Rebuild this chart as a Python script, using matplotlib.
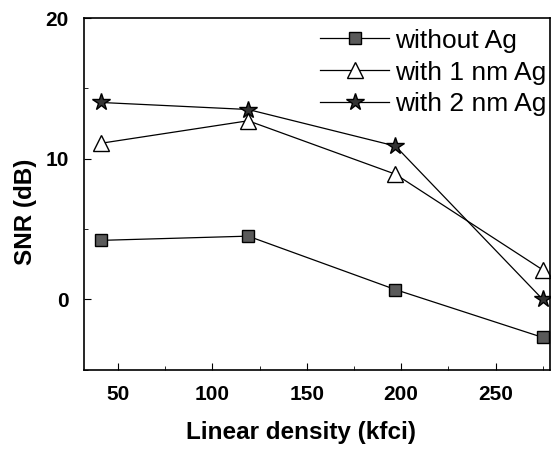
import matplotlib
matplotlib.use("Agg")
import matplotlib.pyplot as plt
from matplotlib.ticker import MultipleLocator

plt.rcParams['font.family'] = ['Liberation Sans', 'DejaVu Sans']

density = [41, 119, 197, 275]
snr_no_ag = [4.2, 4.5, 0.7, -2.7]
snr_1nm = [11.1, 12.7, 8.9, 2.1]
snr_2nm = [14.0, 13.5, 10.9, 0.0]
labels = ["without Ag", "with 1 nm Ag", "with 2 nm Ag"]

fig = plt.figure(figsize=(5.52, 4.51), dpi=100)
ax = fig.add_axes([0.152, 0.18, 0.845, 0.78])

ax.plot(density, snr_no_ag, color='black', lw=0.9, marker='s', ms=8,
        mfc='#5a5a5a', mec='black', label=labels[0])
ax.plot(density, snr_1nm, color='black', lw=0.9, marker='^', ms=12,
        mfc='white', mec='black', label=labels[1])
ax.plot(density, snr_2nm, color='black', lw=0.9, marker='*', ms=13,
        mfc='#333333', mec='black', label=labels[2])

ax.set_xlim(32, 279)
ax.set_ylim(-5, 20)
ax.xaxis.set_major_locator(MultipleLocator(50))
ax.xaxis.set_minor_locator(MultipleLocator(25))
ax.yaxis.set_major_locator(MultipleLocator(10))
ax.yaxis.set_minor_locator(MultipleLocator(5))
ax.tick_params(which='both', direction='in', top=False, right=False)
ax.tick_params(which='major', length=5, labelsize=15, pad=11)
ax.tick_params(which='minor', length=3)
for lab in ax.get_xticklabels() + ax.get_yticklabels():
    lab.set_fontweight('bold')

ax.set_xlabel("Linear density (kfci)", fontsize=17.5, fontweight='bold',
              labelpad=12, x=0.465)
ax.set_ylabel("SNR (dB)", fontsize=17.5, fontweight='bold', labelpad=6, y=0.45)

for s in ax.spines.values():
    s.set_linewidth(1.2)

leg = ax.legend(loc='upper right', frameon=False, fontsize=19, handlelength=2.6,
                handletextpad=0.25, labelspacing=0.3, borderaxespad=0.0,
                bbox_to_anchor=(1.015, 1.0))

fig.savefig("out.png", dpi=100)
